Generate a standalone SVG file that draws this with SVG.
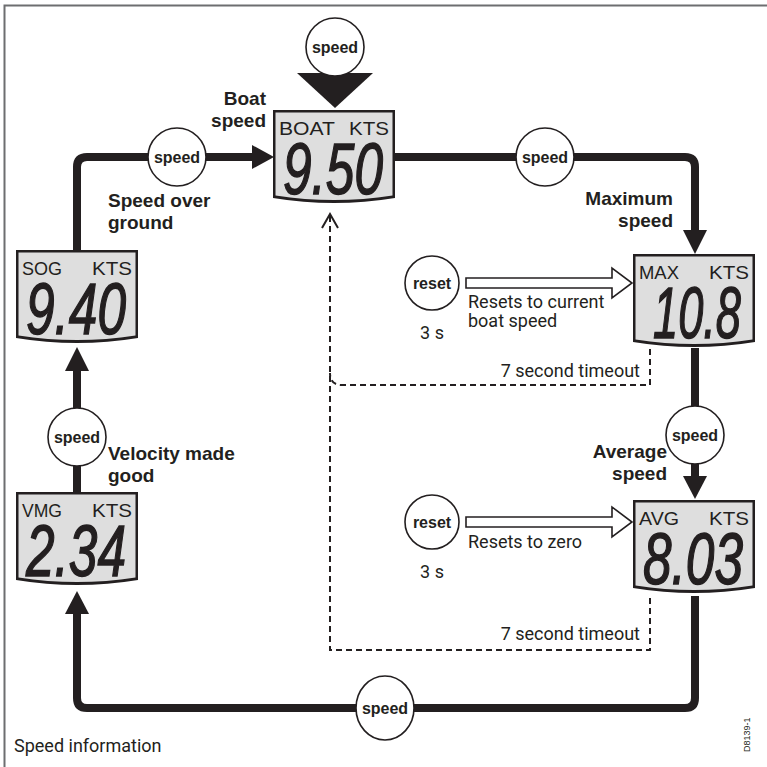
<svg xmlns="http://www.w3.org/2000/svg" width="767" height="767" viewBox="0 0 767 767">
<style>
.conn{fill:none;stroke:#231f20;stroke-width:8;stroke-linejoin:round}
.dash{fill:none;stroke:#231f20;stroke-width:2;stroke-dasharray:6 4}
.head{fill:#231f20}
.btn{fill:#fff;stroke:#231f20;stroke-width:1.6}
.btxt{font-family:"Liberation Sans",Arial,sans-serif;font-weight:bold;font-size:16px;fill:#231f20;text-anchor:middle}
.lbl{font-family:"Liberation Sans",Arial,sans-serif;font-weight:bold;font-size:19px;fill:#231f20}
.note{font-family:Roboto,"Liberation Sans",sans-serif;font-size:18px;fill:#231f20}
.bez{fill:#231f20}
.scr{fill:#dedede}
.hdr{font-family:"Liberation Sans",Arial,sans-serif;font-size:19px;fill:#231f20}
.dig{font-family:"Liberation Sans",Arial,sans-serif;font-style:italic;font-size:72px;fill:#231f20;text-anchor:middle;stroke:#231f20;stroke-width:1.5}
.hollow{fill:#fff;stroke:#231f20;stroke-width:1.6;stroke-linejoin:miter}
</style>
<defs>
<g id="lcd">
<path class="bez" d="M0,0 H122 V88 Q61,98 0,88 Z"/>
<path class="scr" d="M2.5,2.5 H119.5 V85.5 Q61,94.5 2.5,85.5 Z"/>
</g>
</defs>
<g id="frame">
<path d="M4.5,767 V5.5 H767" fill="none" stroke="#6d6e70" stroke-width="2"/>
</g>
<g id="connectors">
<path class="conn" d="M77,250 V167 Q77,157 87,157 H256"/>
<polygon class="head" points="252,145 274,157 252,169"/>
<path class="conn" d="M395,157 H685 Q695,157 695,167 V234"/>
<polygon class="head" points="683,230 707,230 695,254"/>
<path class="conn" d="M695,348 V480"/>
<polygon class="head" points="683,476 707,476 695,499"/>
<path class="conn" d="M695,596 V698 Q695,708 685,708 H87 Q77,708 77,698 V612"/>
<polygon class="head" points="65,614 89,614 77,591"/>
<path class="conn" d="M77,492 V368"/>
<polygon class="head" points="65,371 89,371 77,347"/>
<polygon class="head" points="297,73 373,73 335,108"/>
<path class="dash" d="M650,349 V385 H342 Q330,385 330,373"/>
<path class="dash" d="M650,598 V650 H330 V216"/>
<polyline points="322,228 330,214 338,228" fill="none" stroke="#231f20" stroke-width="2"/>
<polygon class="hollow" points="466,278 612,278 612,268 632,283 612,298 612,288 466,288"/>
<polygon class="hollow" points="466,517 612,517 612,507 632,522 612,537 612,527 466,527"/>
</g>
<g id="btn-top"><circle class="btn" cx="335" cy="47" r="29"/><text class="btxt" x="335" y="53">speed</text></g>
<g id="btn-tl"><circle class="btn" cx="177" cy="157" r="29"/><text class="btxt" x="177" y="163">speed</text></g>
<g id="btn-tr"><circle class="btn" cx="545" cy="157" r="29"/><text class="btxt" x="545" y="163">speed</text></g>
<g id="btn-r"><circle class="btn" cx="695" cy="435" r="29"/><text class="btxt" x="695" y="441">speed</text></g>
<g id="btn-l"><circle class="btn" cx="77" cy="437" r="29"/><text class="btxt" x="77" y="443">speed</text></g>
<g id="btn-b"><ellipse class="btn" cx="385" cy="708" rx="29" ry="32"/><text class="btxt" x="385" y="714">speed</text></g>
<g id="reset1"><circle class="btn" cx="432" cy="283" r="27"/><text class="btxt" x="432" y="289">reset</text><text class="note" x="432" y="339" text-anchor="middle">3 s</text>
<text class="note" x="468" y="308">Resets to current</text><text class="note" x="468" y="327">boat speed</text></g>
<g id="reset2"><circle class="btn" cx="432" cy="522" r="27"/><text class="btxt" x="432" y="528">reset</text><text class="note" x="432" y="578" text-anchor="middle">3 s</text>
<text class="note" x="468" y="548">Resets to zero</text></g>
<g id="timeouts">
<text class="note" x="640" y="377" text-anchor="end">7 second timeout</text>
<text class="note" x="640" y="640" text-anchor="end">7 second timeout</text>
</g>
<g id="boat">
<text class="lbl" x="266" y="105" text-anchor="end">Boat</text>
<text class="lbl" x="266" y="127" text-anchor="end">speed</text>
<g transform="translate(273,110)"><use href="#lcd"/><text class="hdr" x="6" y="25" textLength="56" lengthAdjust="spacingAndGlyphs">BOAT</text><text class="hdr" x="116" y="25" text-anchor="end" textLength="40" lengthAdjust="spacingAndGlyphs">KTS</text><text class="dig" x="60" y="84" textLength="100" lengthAdjust="spacingAndGlyphs">9.50</text></g>
</g>
<g id="max">
<text class="lbl" x="673" y="205" text-anchor="end">Maximum</text>
<text class="lbl" x="673" y="227" text-anchor="end">speed</text>
<g transform="translate(633,254)"><use href="#lcd"/><text class="hdr" x="6" y="25" textLength="40" lengthAdjust="spacingAndGlyphs">MAX</text><text class="hdr" x="116" y="25" text-anchor="end" textLength="40" lengthAdjust="spacingAndGlyphs">KTS</text><text class="dig" x="64" y="84" textLength="88" lengthAdjust="spacingAndGlyphs">10.8</text></g>
</g>
<g id="avg">
<text class="lbl" x="667" y="458" text-anchor="end">Average</text>
<text class="lbl" x="667" y="480" text-anchor="end">speed</text>
<g transform="translate(633,500)"><use href="#lcd"/><text class="hdr" x="6" y="25" textLength="40" lengthAdjust="spacingAndGlyphs">AVG</text><text class="hdr" x="116" y="25" text-anchor="end" textLength="40" lengthAdjust="spacingAndGlyphs">KTS</text><text class="dig" x="60" y="84" textLength="100" lengthAdjust="spacingAndGlyphs">8.03</text></g>
</g>
<g id="sog">
<text class="lbl" x="108" y="207">Speed over</text>
<text class="lbl" x="108" y="229">ground</text>
<g transform="translate(16,250)"><use href="#lcd"/><text class="hdr" x="6" y="25" textLength="40" lengthAdjust="spacingAndGlyphs">SOG</text><text class="hdr" x="116" y="25" text-anchor="end" textLength="40" lengthAdjust="spacingAndGlyphs">KTS</text><text class="dig" x="60" y="84" textLength="100" lengthAdjust="spacingAndGlyphs">9.40</text></g>
</g>
<g id="vmg">
<text class="lbl" x="108" y="460">Velocity made</text>
<text class="lbl" x="108" y="482">good</text>
<g transform="translate(16,492)"><use href="#lcd"/><text class="hdr" x="6" y="25" textLength="40" lengthAdjust="spacingAndGlyphs">VMG</text><text class="hdr" x="116" y="25" text-anchor="end" textLength="40" lengthAdjust="spacingAndGlyphs">KTS</text><text class="dig" x="60" y="84" textLength="100" lengthAdjust="spacingAndGlyphs">2.34</text></g>
</g>
<g id="caption">
<text class="note" x="14" y="752" font-size="19">Speed information</text>
<text x="750" y="752" transform="rotate(-90 750 752)" font-family="Liberation Sans,Arial,sans-serif" font-size="9" fill="#231f20">D8139-1</text>
</g>
</svg>
